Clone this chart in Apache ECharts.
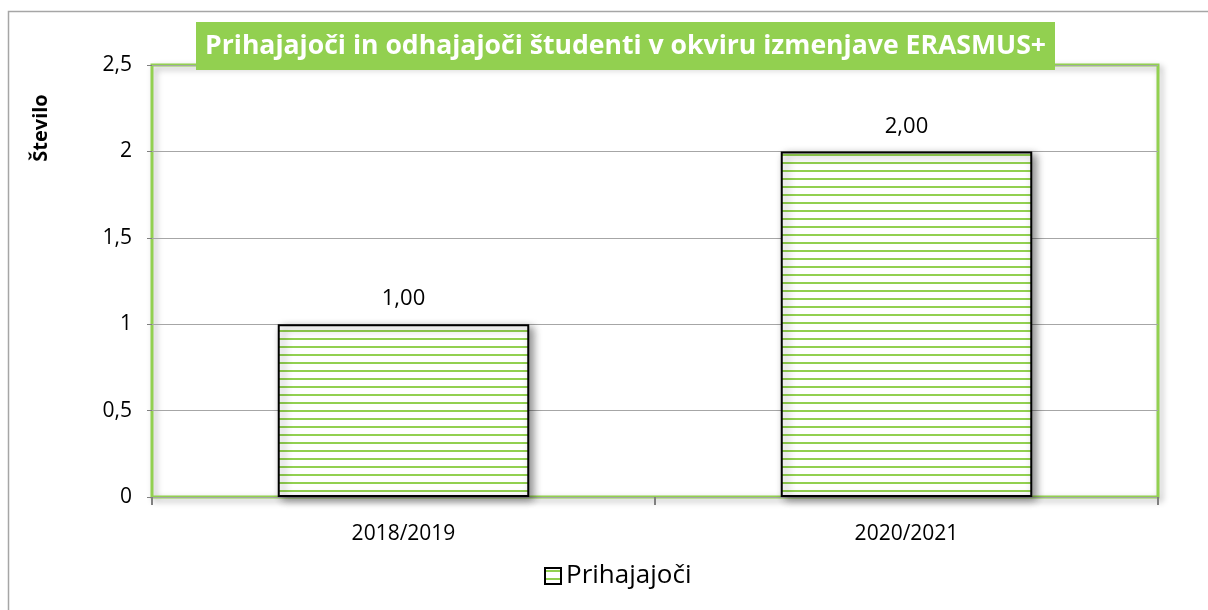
<!DOCTYPE html>
<html>
<head>
<meta charset="utf-8">
<script src="https://cdn.jsdelivr.net/npm/echarts@6/dist/echarts.min.js"></script>
<style>
  html, body { margin: 0; padding: 0; background: #fff; }
  #chart { width: 1208px; height: 610px; }
</style>
</head>
<body>
<div id="chart"></div>
<script>
// podatki
const categories = ["2018/2019", "2020/2021"];
const prihajajoci = [1, 2];
const yTicks = [0, 0.5, 1, 1.5, 2, 2.5];

const GREEN = "#92d050";

// vzorec s horizontalnimi črtami za stolpce
function stripes() {
  const c = document.createElement("canvas");
  c.width = 8; c.height = 8;
  const ctx = c.getContext("2d");
  ctx.fillStyle = "#ffffff";
  ctx.fillRect(0, 0, 8, 8);
  ctx.fillStyle = GREEN;
  ctx.fillRect(0, 2, 8, 2);
  return c;
}

const chart = echarts.init(document.getElementById("chart"));
chart.setOption({
  animation: false,
  textStyle: { fontFamily: "Open Sans" },
  title: {
    text: "Prihajajoči in odhajajoči študenti v okviru izmenjave ERASMUS+",
    left: 196,
    top: 22,
    backgroundColor: GREEN,
    padding: [9, 9, 9, 9],
    textStyle: { color: "#fff", fontSize: 26.6, lineHeight: 30, fontWeight: "bold", fontFamily: "Open Sans" }
  },
  graphic: [
    {
      type: "rect",
      z: -10,
      shape: { x: 8.5, y: 11.5, width: 1400, height: 800 },
      style: { fill: "none", stroke: "#a6a6a6", lineWidth: 1.5 }
    },
    {
      // naslov osi y
      type: "text",
      x: 41,
      y: 128,
      rotation: Math.PI / 2,
      style: {
        text: "Število",
        fontSize: 20,
        fontWeight: "bold",
        fontFamily: "Open Sans",
        fill: "#000",
        align: "center",
        verticalAlign: "middle"
      }
    }
  ],
  legend: {
    top: 558,
    left: 539,
    itemWidth: 16,
    itemHeight: 16,
    itemGap: 6,
    textStyle: { fontSize: 26, color: "#000", fontFamily: "Open Sans" },
    data: [{
      name: "Prihajajoči",
      icon: "rect",
      itemStyle: { color: { image: stripes(), repeat: "repeat" }, borderColor: "#000", borderWidth: 2 }
    }]
  },
  grid: {
    left: 152,
    right: 50,
    top: 65,
    bottom: 113,
    outerBoundsMode: "none",
    show: true,
    borderColor: GREEN,
    borderWidth: 3,
    shadowColor: "rgba(0,0,0,0.3)",
    shadowBlur: 6,
    shadowOffsetX: 3,
    shadowOffsetY: 3
  },
  xAxis: {
    type: "category",
    data: categories,
    axisLine: { show: false },
    axisTick: { show: true, length: 8, lineStyle: { color: "#808080", width: 2 } },
    axisLabel: { fontSize: 21, color: "#000", margin: 27 }
  },
  yAxis: {
    type: "value",
    min: yTicks[0],
    max: yTicks[yTicks.length - 1],
    interval: 0.5,
    axisLine: { show: false },
    axisTick: { show: true, length: 5, lineStyle: { color: "#808080", width: 1 } },
    axisLabel: {
      fontSize: 21, color: "#000", margin: 20,
      formatter: v => String(v).replace(".", ",")
    },
    splitLine: { lineStyle: { color: "#a6a6a6", width: 1 } }
  },
  series: [
    {
      name: "Prihajajoči",
      type: "bar",
      data: prihajajoci,
      barWidth: "50%",
      itemStyle: {
        color: { image: stripes(), repeat: "repeat" },
        borderColor: "#000",
        borderWidth: 2,
        shadowColor: "rgba(0,0,0,0.45)",
        shadowBlur: 8,
        shadowOffsetX: 4,
        shadowOffsetY: 3
      },
      label: {
        show: true,
        position: "top",
        distance: 14,
        fontSize: 22,
        color: "#000",
        formatter: p => p.value.toFixed(2).replace(".", ",")
      }
    }
  ]
});
</script>
</body>
</html>
